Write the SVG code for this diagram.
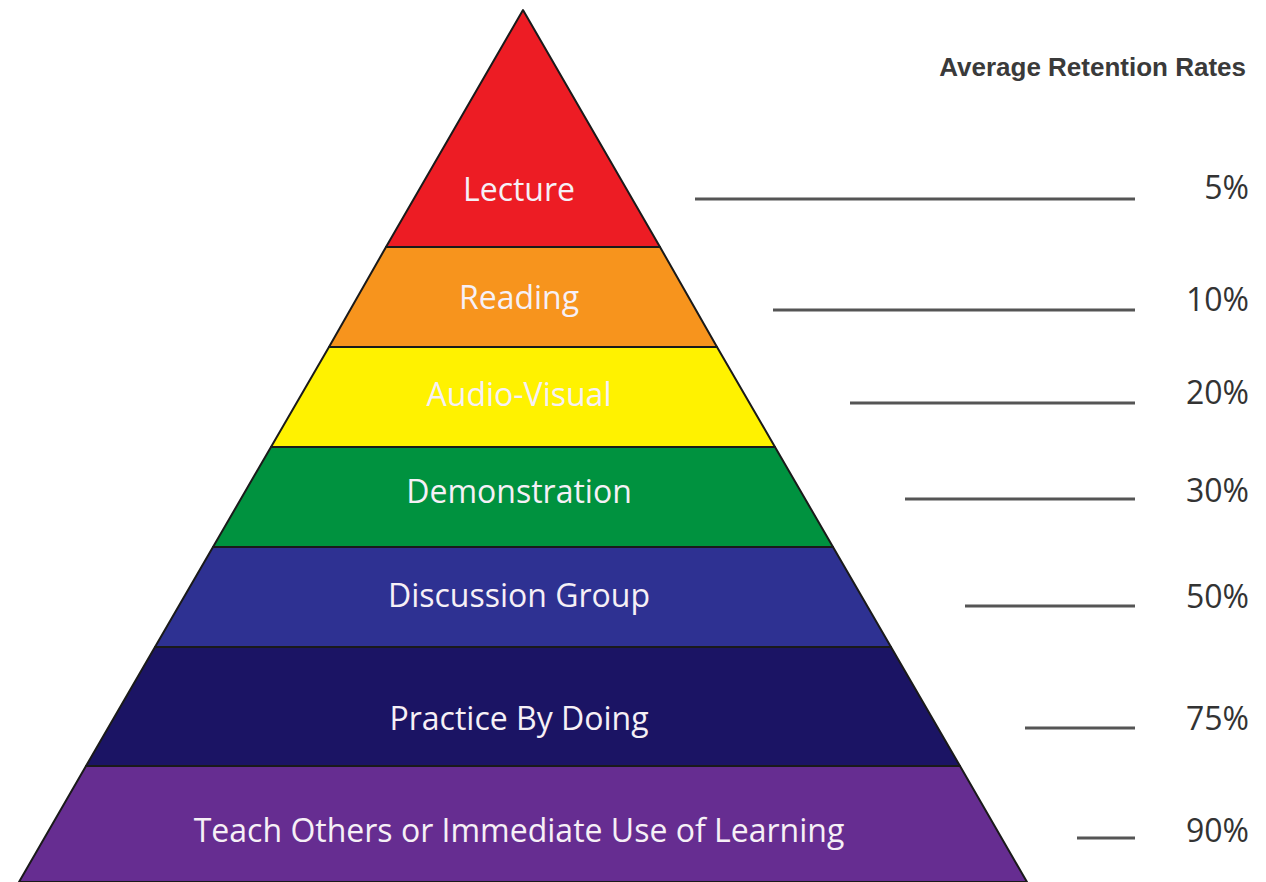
<svg xmlns="http://www.w3.org/2000/svg" width="1266" height="882" viewBox="0 0 1266 882">
<style>
.band{stroke:#1a1a1a;stroke-width:2;stroke-linejoin:round}
.lbl{font-family:"Open Sans","Noto Sans","Liberation Sans",sans-serif;font-size:32px;fill:#f6f0f6;text-anchor:middle}
.pct{font-family:"Open Sans","Noto Sans","Liberation Sans",sans-serif;font-size:32px;fill:#333;text-anchor:end}
.ln{stroke:#555;stroke-width:3}
</style>
<rect width="1266" height="882" fill="#fff"/>
<g id="lecture"><polygon class="band" fill="#ed1c24" points="523,10 660,247 386,247"/><text class="lbl" x="519" y="201">Lecture</text></g>
<g id="reading"><polygon class="band" fill="#f7941d" points="386,247 660,247 717,347 329,347"/><text class="lbl" x="519" y="309">Reading</text></g>
<g id="audiovisual"><polygon class="band" fill="#fff200" points="329,347 717,347 775,447 271,447"/><text class="lbl" x="519" y="406">Audio-Visual</text></g>
<g id="demonstration"><polygon class="band" fill="#00923f" points="271,447 775,447 833,547 213,547"/><text class="lbl" x="519" y="503">Demonstration</text></g>
<g id="discussion"><polygon class="band" fill="#2e3192" points="213,547 833,547 891,647 155,647"/><text class="lbl" x="519" y="607">Discussion Group</text></g>
<g id="practice"><polygon class="band" fill="#1b1464" points="155,647 891,647 960,766 86,766"/><text class="lbl" x="519" y="730">Practice By Doing</text></g>
<g id="teach"><polygon class="band" fill="#662d91" points="86,766 960,766 1027,882 19,882"/><text class="lbl" x="519" y="842">Teach Others or Immediate Use of Learning</text></g>
<g id="connectors">
<line class="ln" x1="695" y1="199" x2="1135" y2="199"/>
<line class="ln" x1="773" y1="310" x2="1135" y2="310"/>
<line class="ln" x1="850" y1="403" x2="1135" y2="403"/>
<line class="ln" x1="905" y1="499" x2="1135" y2="499"/>
<line class="ln" x1="965" y1="606" x2="1135" y2="606"/>
<line class="ln" x1="1025" y1="728" x2="1135" y2="728"/>
<line class="ln" x1="1077" y1="838" x2="1135" y2="838"/>
</g>
<g id="rates">
<text x="1246" y="76" style="font-family:'Liberation Sans',Arial,sans-serif;font-size:26px;font-weight:bold;fill:#3a3a3a;text-anchor:end">Average Retention Rates</text>
<text class="pct" x="1249" y="199">5%</text>
<text class="pct" x="1249" y="311">10%</text>
<text class="pct" x="1249" y="404">20%</text>
<text class="pct" x="1249" y="502">30%</text>
<text class="pct" x="1249" y="608">50%</text>
<text class="pct" x="1249" y="730">75%</text>
<text class="pct" x="1249" y="842">90%</text>
</g>
</svg>
